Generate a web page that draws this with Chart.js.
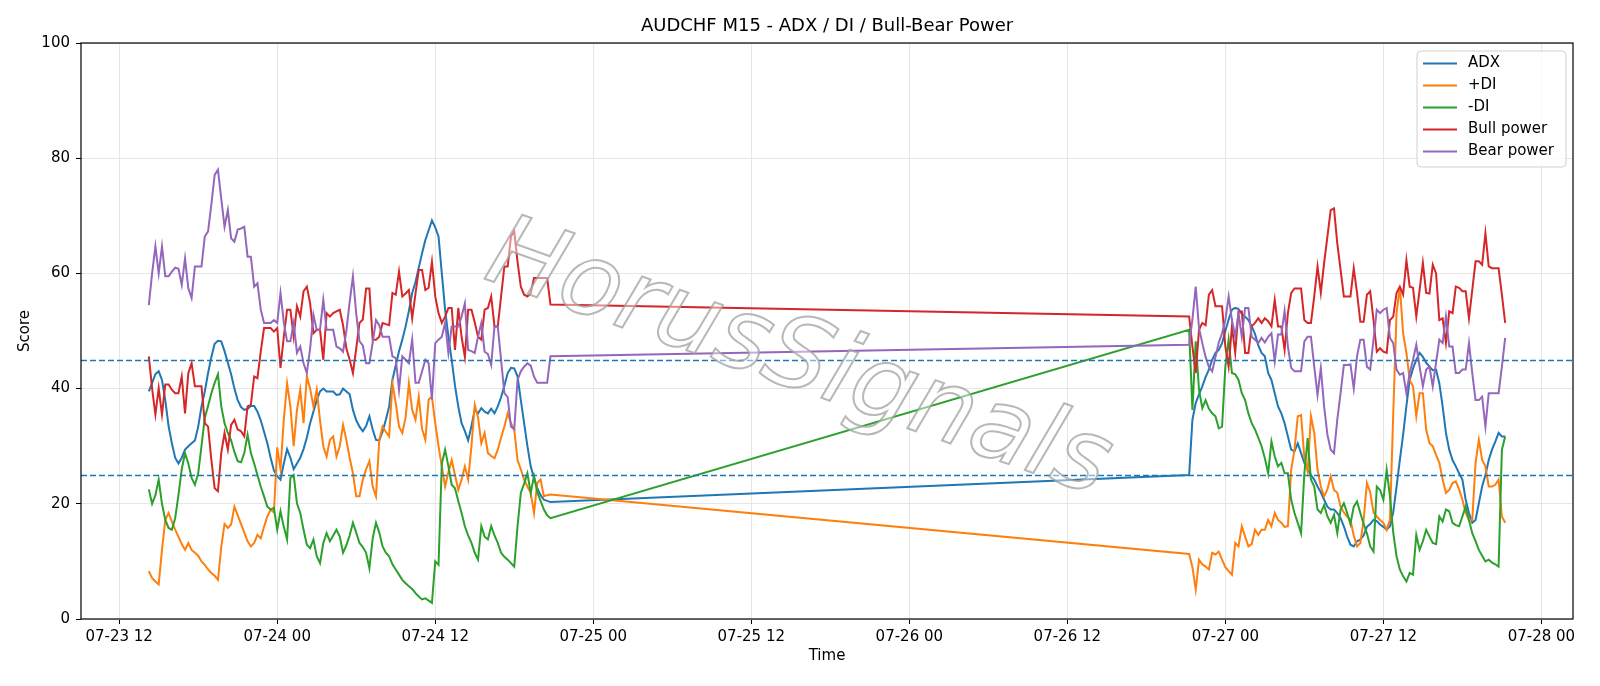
<!DOCTYPE html>
<html>
<head>
<meta charset="utf-8">
<title>AUDCHF M15 - ADX / DI / Bull-Bear Power</title>
<script src="https://cdn.jsdelivr.net/npm/chart.js@4.4.1/dist/chart.umd.min.js"></script>
<style>
  html, body { margin: 0; padding: 0; background: #fff; }
  #wrap { width: 1600px; height: 686px; position: relative; }
</style>
</head>
<body>
<div id="wrap"><canvas id="adx"></canvas></div>
<script>
// time is counted in hours from 07-23 00:00, one bar = 15 minutes
const session1Start = 14.25;   // 07-23 14:15
const session2Start = 93.25;   // 07-26 21:15
const barHours = 0.25;

const tickHours = [12, 24, 36, 48, 60, 72, 84, 96, 108, 120];
const levels = [45, 25];

// first session (07-23 14:15 .. 07-24 20:45)
const adx1 = [39.5, 41, 42.5, 43, 41.5, 38, 33.5, 30.5, 28, 27,
  28, 29.4, 30, 30.5, 31, 33.4, 36.9, 39.5, 42.7, 45.5,
  47.8, 48.3, 48.2, 46.5, 44.5, 42.5, 40, 38, 36.8, 36.3,
  36.5, 37, 37, 36, 34.5, 32.5, 30.5, 28, 25.8, 24.8,
  24.2, 27, 29.5, 28, 26, 27, 28, 29.5, 31.5, 34,
  36, 38, 39.5, 40, 39.5, 39.5, 39.5, 38.9, 39, 40,
  39.5, 39, 36.3, 34.5, 33.4, 32.6, 33.5, 35.2, 32.9, 31.1,
  31, 32.5, 34.6, 36.9, 41.5, 44, 46.5, 48.5, 50.8, 53.5,
  56.6, 58.5, 61, 63.5, 65.8, 67.5, 69.2, 68, 66.4, 60,
  53.7, 49, 45, 40.5, 36.9, 34, 32.6, 31, 33.5, 36.3,
  35.7, 36.6, 36, 35.7, 36.5, 35.7, 36.9, 38.5, 40.5, 42.7,
  43.6, 43.5, 42.1, 38, 34, 30, 26.5, 24.5, 22.7, 21.5,
  20.7, 20.5, 20.3];
const plusDi1 = [8.3, 7.1, 6.5, 6, 12, 17.2, 18.4, 16.9, 15.5, 14.3,
  13, 12, 13.2, 12, 11.5, 11, 10, 9.4, 8.6, 8,
  7.5, 6.8, 12.5, 16.5, 15.8, 16.4, 19.5, 18, 16.5, 15,
  13.5, 12.6, 13.2, 14.6, 14, 16, 17.8, 19, 18.5, 29.8,
  26, 34.6, 40.9, 36.9, 30, 36.3, 39.8, 34, 42.1, 40,
  36.9, 39.8, 34.5, 30, 28.2, 31.1, 31.7, 28.2, 30, 33.7,
  31.1, 28, 25.3, 21.3, 21.3, 24.2, 26, 27.4, 23, 21.3,
  31.1, 33.4, 32.5, 31.7, 40.9, 37.5, 33.4, 32.3, 35, 40.9,
  36.3, 34.6, 38.6, 33, 31.1, 38.1, 38.6, 34, 30, 26.5,
  23, 25.5, 27.6, 25, 22.4, 24.2, 26.5, 24.2, 30, 37.2,
  35, 30.5, 32.3, 28.8, 28.3, 27.9, 29.4, 31.5, 33.4, 35.7,
  34, 32.9, 27.6, 26, 24.2, 23, 21.9, 18.4, 23.6, 24.2,
  21.3, 21.5, 21.6];
const minusDi1 = [22.5, 20, 21.5, 24.2, 20, 17.2, 15.8, 15.5, 17.5, 21.5,
  26, 28.8, 27, 24.5, 23.3, 25.3, 30, 34.9, 37, 39.2,
  41, 42.5, 36.9, 34, 32.3, 31, 29, 27.4, 27.2, 28.8,
  32, 28.8, 27, 25, 23, 21.3, 19.5, 19, 19.3, 15.5,
  18.7, 16, 13.8, 24.5, 25, 20.1, 18.4, 15.5, 12.9, 12.3,
  13.8, 10.9, 9.7, 13.2, 14.9, 13.5, 14.5, 15.5, 14.3, 11.5,
  12.8, 14.5, 16.7, 15, 13.2, 12.5, 11.5, 8.8, 14, 16.7,
  15, 12.6, 11.5, 10.9, 9.5, 8.6, 7.7, 6.8, 6.2, 5.7,
  5.2, 4.5, 3.9, 3.4, 3.6, 3.2, 2.8, 10, 9.4, 27,
  29.4, 26.5, 23.3, 22.7, 20.5, 18.4, 16.1, 14.5, 13.2, 11.5,
  10.3, 16.1, 14.3, 13.8, 16.1, 14.5, 13.2, 11.5, 10.8, 10.3,
  9.7, 9.1, 16.1, 21.9, 23.5, 25.3, 21.9, 24.8, 22, 20.5,
  19, 18, 17.5];
const bull1 = [45.6, 40, 35.5, 40.1, 35.5, 40.7, 40.7, 39.8, 39.2, 39.2,
  42.1, 35.7, 42.7, 44.4, 40.4, 40.4, 40.4, 34, 33.4, 27.6,
  22.7, 22.2, 28.8, 32.3, 29.4, 33.7, 34.6, 32.9, 32.6, 31.7,
  36.9, 37.2, 42.1, 41.8, 46.4, 50.5, 50.5, 50.5, 49.9, 50.5,
  43.6, 49, 53.7, 53.7, 49, 54.3, 52.5, 56.9, 57.7, 54.8,
  49.6, 50.2, 50.2, 45, 53.1, 52.5, 53.1, 53.4, 53.7, 51,
  47, 45, 42.7, 47, 51.4, 52, 57.4, 57.4, 48.5, 48.5,
  49, 51.4, 51.2, 51, 56.6, 56.3, 60.3, 56, 56.5, 57.1,
  52.2, 56.5, 60.6, 60.6, 57.1, 57.5, 62, 56, 53.1, 51.4,
  52.5, 54, 54, 46.7, 54, 49, 45.5, 53.7, 53.7, 51.5,
  49, 48.5, 53.7, 54, 56, 50.8, 50.8, 56, 61.2, 61.2,
  66.4, 67.3, 62, 57.7, 56.3, 56, 56.5, 59.2, 59.2, 59.2,
  59.2, 59.2, 54.6];
const bear1 = [54.5, 60, 64.7, 60, 64.7, 59.5, 59.5, 60.3, 61, 60.8,
  58, 62.6, 57.4, 55.7, 61.2, 61.2, 61.2, 66.4, 67.3, 72,
  77.1, 78, 73, 68.1, 71, 66.1, 65.5, 67.6, 67.8, 68.1,
  62.9, 62.9, 57.7, 58.3, 53.7, 51.4, 51.4, 51.4, 51.9, 51.4,
  56.6, 51.5, 48.2, 48.2, 51.4, 46.2, 47.3, 44.4, 42.7, 47,
  52.8, 50.2, 50.2, 55.4, 50.2, 50.2, 50.2, 47.3, 47, 46.4,
  50, 55, 59.5, 53, 48.2, 47.5, 44.4, 44.4, 48, 51.9,
  51, 49, 49, 49, 45.6, 45.3, 39.8, 45.6, 45, 44.4,
  48.5, 41, 41, 43, 45, 44.4, 38.1, 47.9, 48.5, 49,
  51.4, 46.2, 50.8, 50.8, 50.8, 52.5, 54.8, 46.7, 46.5, 46.2,
  49, 51.4, 46.4, 46, 44.1, 50.8, 50.8, 45, 39.2, 38.5,
  33.4, 32.9, 41.5, 43, 43.8, 44.4, 44, 42.1, 41, 41,
  41, 41, 45.6];

// second session (07-26 21:15 .. 07-27 21:15)
const adx2 = [25, 34.6, 37.5, 39, 40.4, 42, 43.3, 45, 46.2, 46.7,
  47.9, 50, 52, 53.7, 54, 53.8, 53, 52.5, 51.9, 50.8,
  49.5, 47.5, 46.2, 45.6, 42.7, 41.5, 39.2, 36.9, 35.7, 34,
  31.7, 29.4, 29.1, 30.5, 28.8, 27.1, 26, 25, 24.2, 23,
  22, 20.7, 19.5, 19, 19, 18.4, 17.5, 16.1, 14.3, 12.9,
  12.6, 13.5, 13.8, 14.5, 16, 16.5, 17.2, 17, 16.4, 16,
  15.5, 16.1, 18.5, 23, 27.6, 32, 37, 41.5, 43.5, 45,
  46.2, 45.5, 44.5, 43.8, 43.2, 43.3, 40.9, 36.9, 32.3, 29.4,
  27.6, 26.5, 25.3, 24.2, 20.7, 18.4, 16.7, 17.2, 20.1, 23,
  25, 27.6, 29.4, 30.8, 32.3, 31.7, 31.7];
const plusDi2 = [11.3, 9, 5.1, 10.3, 9.5, 9.1, 8.6, 11.5, 11.2, 11.7,
  10.3, 9, 8.3, 7.7, 13.2, 12.6, 16.1, 14.3, 12.6, 13,
  15.5, 14.6, 15.5, 15.5, 17.2, 16.1, 18.4, 17.2, 16.7, 16,
  16.1, 25.9, 29.4, 35.2, 35.4, 28, 25.6, 35.2, 32.3, 25.9,
  23, 21.3, 22.5, 24.8, 22.4, 21.9, 19.5, 18.5, 17.8, 17.2,
  14.5, 12.6, 13.2, 17.2, 23.6, 22, 18.5, 17.8, 17.2, 16.7,
  15.5, 17.2, 35.7, 53.1, 57.7, 49.6, 46.2, 41.5, 40.4, 35.2,
  39.2, 39.2, 32.9, 30.5, 30, 28.5, 27.1, 24.2, 21.9, 22.4,
  23.6, 23.9, 22.5, 20.7, 18.4, 17.2, 17.2, 27.1, 31.1, 27.6,
  26.5, 23, 23, 23.3, 24.2, 17.8, 16.7];
const minusDi2 = [50.2, 36.3, 48.2, 39.8, 36.6, 38, 36.5, 35.7, 35.2, 33.1,
  33.4, 43.8, 48.5, 42.7, 42.5, 41.5, 39.2, 38, 35.7, 34,
  32.9, 31.5, 30, 27.9, 25.3, 30.8, 28.2, 26.5, 27.1, 25.3,
  25.3, 20.7, 18.4, 16.7, 14.9, 25.3, 31.4, 24.2, 23, 19,
  18.4, 19.8, 17.8, 16.7, 18.1, 14.9, 19, 20.1, 18.4, 16.5,
  19.5, 20.4, 18.4, 16.5, 14.9, 12.6, 11.7, 23, 22.4, 20.7,
  25.9, 21.3, 15, 10.9, 8.6, 7.4, 6.5, 8, 7.7, 14.6,
  12, 13.5, 15.5, 14.3, 13.2, 13, 17.8, 16.9, 19, 18.7,
  16.7, 16.3, 16.1, 17.8, 19.5, 17.2, 14.9, 13.5, 12, 11,
  10, 10.3, 9.8, 9.5, 9.1, 29.4, 31.7];
const bull2 = [52.5, 47.3, 42.7, 50.2, 51.4, 51, 56.3, 57.1, 54.3, 54.3,
  54.3, 47.3, 43.8, 50.8, 46.2, 53.4, 53.4, 46.2, 46.2, 50.8,
  51.4, 52.2, 51.4, 52.2, 51.7, 50.8, 55.4, 50.8, 50.8, 46.7,
  53.1, 56.6, 57.4, 57.4, 57.4, 51.9, 51.4, 51.4, 56, 61.2,
  56.6, 61.8, 66.4, 71, 71.3, 65.2, 60.6, 56, 56, 56,
  60.9, 56.6, 51.6, 51.6, 56.3, 56.9, 51.9, 46.4, 47, 46.4,
  46.2, 51.9, 52.5, 56.6, 57.7, 56.3, 62.3, 57.7, 57.5, 52.5,
  57.1, 61.8, 56.6, 56.5, 61.5, 60, 51.9, 52.2, 47.9, 53.4,
  53.1, 57.7, 57.5, 56.9, 56.9, 52.2, 57.1, 62.1, 62.1, 61.5,
  67, 61.2, 60.9, 60.9, 60.9, 56.3, 51.4];
const bear2 = [47.6, 52, 57.7, 50.5, 47.9, 45.5, 43.8, 43, 45.5, 48,
  49.6, 51.9, 56, 51.9, 49, 53.1, 49, 54, 54, 49,
  48.5, 47.9, 48.8, 48, 49, 49.6, 44.7, 49.4, 49.4, 53.5,
  47.3, 43.6, 43, 43, 43, 48.2, 49, 49, 43.8, 38.9,
  43.6, 36.9, 32, 29.4, 28.8, 34.6, 39.2, 44.1, 44.1, 44.2,
  40, 45.6, 48.5, 48.5, 43.8, 43.3, 48.5, 53.7, 53.1, 53.7,
  54, 48.8, 47.9, 43.3, 42.4, 42.7, 39.2, 42.7, 45, 47.6,
  43.8, 40.4, 43.3, 43.8, 40.4, 44.5, 48.5, 47.9, 52.5, 47.3,
  47.3, 42.7, 42.7, 43.3, 43.3, 47.9, 42.7, 38, 38, 38.6,
  33.4, 39.2, 39.2, 39.2, 39.2, 43.8, 48.8];

function toPoints(first, second) {
  const pts = [];
  first.forEach((v, i) => pts.push({ x: session1Start + i * barHours, y: v }));
  second.forEach((v, i) => pts.push({ x: session2Start + i * barHours, y: v }));
  return pts;
}

function hourLabel(h) {
  const day = 23 + Math.floor(h / 24);
  const hr = h % 24;
  return '07-' + day + ' ' + String(hr).padStart(2, '0');
}

const series = [
  { label: 'ADX', color: '#1f77b4', a: adx1, b: adx2 },
  { label: '+DI', color: '#ff7f0e', a: plusDi1, b: plusDi2 },
  { label: '-DI', color: '#2ca02c', a: minusDi1, b: minusDi2 },
  { label: 'Bull power', color: '#d62728', a: bull1, b: bull2 },
  { label: 'Bear power', color: '#9467bd', a: bear1, b: bear2 },
];

const FONT = '"DejaVu Sans", sans-serif';

const decor = {
  id: 'decor',
  afterDatasetsDraw(chart) {
    const { ctx, chartArea: a, scales } = chart;
    ctx.save();
    ctx.beginPath();
    ctx.rect(a.left, a.top, a.right - a.left, a.bottom - a.top);
    ctx.clip();
    // reference levels
    ctx.strokeStyle = '#1f77b4';
    ctx.lineWidth = 1.3;
    ctx.setLineDash([6, 3]);
    levels.forEach((lv) => {
      const y = Math.round(scales.y.getPixelForValue(lv)) + 0.5;
      ctx.beginPath();
      ctx.moveTo(a.left, y);
      ctx.lineTo(a.right, y);
      ctx.stroke();
    });
    ctx.setLineDash([]);
    // watermark
    ctx.translate(798, 362);
    ctx.rotate(19.5 * Math.PI / 180);
    ctx.font = 'italic 100px ' + FONT;
    ctx.textAlign = 'center';
    ctx.textBaseline = 'middle';
    ctx.fillStyle = 'rgba(255,255,255,0.45)';
    ctx.fillText('HorusSignals', 0, 0);
    ctx.strokeStyle = 'rgba(160,160,160,0.75)';
    ctx.lineWidth = 2;
    ctx.strokeText('HorusSignals', 0, 0);
    ctx.restore();
  },
  afterDraw(chart) {
    const { ctx, chartArea: a } = chart;
    ctx.save();
    // axes frame
    ctx.strokeStyle = '#000';
    ctx.lineWidth = 1.2;
    ctx.strokeRect(a.left, a.top, a.right - a.left, a.bottom - a.top);
    // titles
    ctx.fillStyle = '#000';
    ctx.textAlign = 'center';
    ctx.textBaseline = 'middle';
    ctx.font = '18px ' + FONT;
    ctx.fillText('AUDCHF M15 - ADX / DI / Bull-Bear Power', (a.left + a.right) / 2, 26);
    ctx.font = '15px ' + FONT;
    ctx.fillText('Time', (a.left + a.right) / 2, 656);
    ctx.save();
    ctx.translate(25, (a.top + a.bottom) / 2);
    ctx.rotate(-Math.PI / 2);
    ctx.fillText('Score', 0, 0);
    ctx.restore();
    // legend box
    const lx = 1417, ly = 51, lw = 149, lh = 116, r = 4;
    ctx.beginPath();
    ctx.moveTo(lx + r, ly);
    ctx.arcTo(lx + lw, ly, lx + lw, ly + lh, r);
    ctx.arcTo(lx + lw, ly + lh, lx, ly + lh, r);
    ctx.arcTo(lx, ly + lh, lx, ly, r);
    ctx.arcTo(lx, ly, lx + lw, ly, r);
    ctx.closePath();
    ctx.fillStyle = 'rgba(255,255,255,0.8)';
    ctx.fill();
    ctx.strokeStyle = '#d0d0d0';
    ctx.lineWidth = 1;
    ctx.stroke();
    ctx.textAlign = 'left';
    series.forEach((s, k) => {
      const y = 63.5 + k * 22;
      ctx.strokeStyle = s.color;
      ctx.lineWidth = 2;
      ctx.beginPath();
      ctx.moveTo(1423, y);
      ctx.lineTo(1457, y);
      ctx.stroke();
      ctx.fillStyle = '#000';
      ctx.fillText(s.label, 1468, y);
    });
    ctx.restore();
  }
};

Chart.defaults.font.family = FONT;
Chart.defaults.font.size = 15;
Chart.defaults.color = '#000';

new Chart(document.getElementById('adx'), {
  type: 'line',
  data: {
    datasets: series.map((s, k) => ({
      label: s.label,
      data: toPoints(s.a, s.b),
      borderColor: s.color,
      backgroundColor: s.color,
      borderWidth: 2,
      pointRadius: 0,
      tension: 0,
      order: series.length - k,
    })),
  },
  options: {
    responsive: true,
    maintainAspectRatio: false,
    animation: false,
    events: [],
    layout: { padding: { left: 0, top: 43, right: 27, bottom: 0 } },
    plugins: { legend: { display: false }, tooltip: { enabled: false }, title: { display: false } },
    scales: {
      x: {
        type: 'linear',
        min: 9.1,
        max: 122.4,
        afterBuildTicks: (scale) => { scale.ticks = tickHours.map((v) => ({ value: v })); },
        afterFit: (scale) => { scale.height = 67; },
        ticks: { autoSkip: false, maxRotation: 0, padding: 4, callback: (v) => hourLabel(v) },
        grid: { color: '#e6e6e6', tickColor: '#000', tickLength: 5 },
        border: { display: false },
      },
      y: {
        min: 0,
        max: 100,
        afterFit: (scale) => { scale.width = 81; },
        ticks: { stepSize: 20, padding: 6 },
        grid: { color: '#e6e6e6', tickColor: '#000', tickLength: 5 },
        border: { display: false },
      },
    },
  },
  plugins: [decor],
});
</script>
</body>
</html>
